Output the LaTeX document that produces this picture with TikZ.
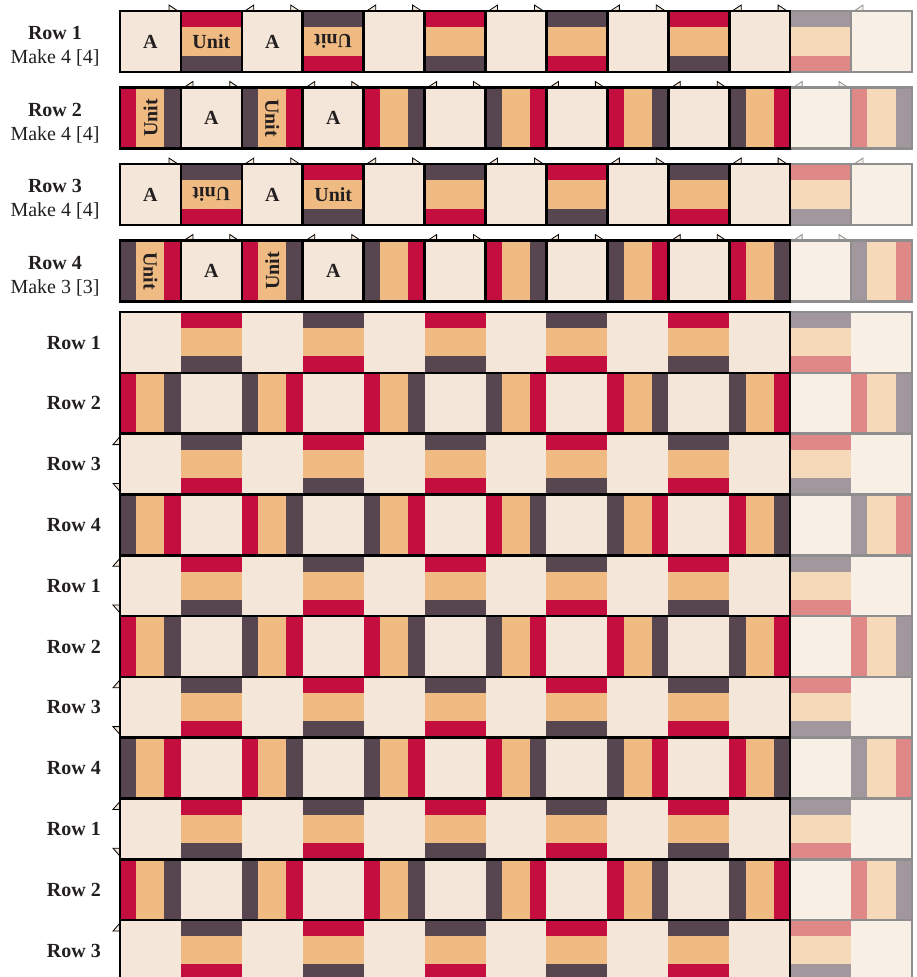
\documentclass[tikz,border=0pt]{standalone}
\usepackage{fontspec}
\setmainfont{Liberation Serif}
\definecolor{cream}{HTML}{F4E6D8}
\definecolor{tanc}{HTML}{F0BB82}
\definecolor{redc}{HTML}{C40E40}
\definecolor{darkc}{HTML}{574550}
\definecolor{creamf}{HTML}{F8F0E6}
\definecolor{tanf}{HTML}{F6D9B8}
\definecolor{redf}{HTML}{DE8888}
\definecolor{darkf}{HTML}{A3979E}
\definecolor{fadeb}{HTML}{8E8E8E}
\definecolor{ink}{HTML}{231F20}
\def\cw{60.92}
% one pattern cell: #1 row type (1-4), #2 column, #3 top y, #4 height
\newcommand{\pcell}[4]{%
  \pgfmathsetmacro{\xa}{120+#2*\cw}%
  \pgfmathtruncatemacro{\ip}{mod(#2,2)}%
  \pgfmathtruncatemacro{\jj}{mod(floor(#2/2),2)}%
  \pgfmathtruncatemacro{\tp}{mod(#1,2)}%
  \pgfmathtruncatemacro{\tq}{(#1>2)?1:0}%
  \ifnum#2>10 \def\cC{creamf}\def\cT{tanf}\def\cR{redf}\def\cD{darkf}%
  \else \def\cC{cream}\def\cT{tanc}\def\cR{redc}\def\cD{darkc}\fi
  \ifnum\ip=\tp
    \ifnum\jj=\tq \edef\cF{\cR}\edef\cS{\cD}\else\edef\cF{\cD}\edef\cS{\cR}\fi
    \fill[\cT] (\xa,#3) rectangle ++(\cw,#4);
    \ifnum\tp=1
      \fill[\cF] (\xa,#3) rectangle ++(\cw,0.27*#4);
      \fill[\cS] (\xa,#3+0.73*#4) rectangle ++(\cw,0.27*#4);
    \else
      \fill[\cF] (\xa,#3) rectangle ++(0.27*\cw,#4);
      \fill[\cS] (\xa+0.73*\cw,#3) rectangle ++(0.27*\cw,#4);
    \fi
  \else
    \fill[\cC] (\xa,#3) rectangle ++(\cw,#4);
  \fi
}
% top notch markers over plain cells: #1 type, #2 column, #3 top y
\newcommand{\pmark}[3]{%
  \pgfmathsetmacro{\xa}{120+#2*\cw}%
  \pgfmathsetmacro{\xb}{120+(#2+1)*\cw}%
  \pgfmathtruncatemacro{\ip}{mod(#2,2)}%
  \pgfmathtruncatemacro{\tp}{mod(#1,2)}%
  \ifnum#2>10 \def\mks{mkf}\else\def\mks{mk}\fi
  \ifnum\ip=\tp\else
    \ifnum#2>0 \draw[\mks] (\xa+3,#3) -- (\xa+12,#3-6) -- (\xa+12,#3) -- cycle;\fi
    \ifnum#2<12 \draw[\mks] (\xb-12,#3-6) -- (\xb-3,#3) -- (\xb-12,#3) -- cycle;\fi
  \fi
}
\begin{document}
\begin{tikzpicture}[x=1pt,y=-1pt,
  bd/.style={draw=black,line width=2.6pt},
  bdf/.style={draw=fadeb,line width=2.6pt},
  mk/.style={fill=cream,draw=black,line width=0.8pt},
  mkf/.style={fill=creamf,draw=fadeb,line width=0.8pt},
  rowl/.style={font=\fontsize{20}{24}\selectfont\bfseries,text=ink,inner sep=0pt},
  makel/.style={font=\fontsize{20}{24}\selectfont,text=ink,inner sep=0pt},
  ctxt/.style={font=\fontsize{20}{24}\selectfont\bfseries,text=ink,inner sep=0pt}]
\useasboundingbox (0,0) rectangle (917,977);
\clip (0,0) rectangle (917,977);

% ---------- four separate strips ----------
\foreach \s/\yt in {1/11,2/87.5,3/164,4/240.5}{
  \foreach \i in {0,...,12}{\pcell{\s}{\i}{\yt}{61}}
  \foreach \i in {0,...,12}{\pmark{\s}{\i}{\yt}}
  \foreach \i in {11,12}{\draw[bdf] ({120+\i*\cw},\yt) rectangle ++(\cw,61);}
  \foreach \i in {0,...,10}{\draw[bd] ({120+\i*\cw},\yt) rectangle ++(\cw,61);}
}

% strip labels
\node[rowl,anchor=base] (l1a) at (55,39.5) {Row 1};
\node[makel,anchor=base] (l1b) at (55,63.5) {Make 4 [4]};
\node[rowl,anchor=base] (l2a) at (55,116) {Row 2};
\node[makel,anchor=base] (l2b) at (55,140) {Make 4 [4]};
\node[rowl,anchor=base] (l3a) at (55,192.5) {Row 3};
\node[makel,anchor=base] (l3b) at (55,216.5) {Make 4 [4]};
\node[rowl,anchor=base] (l4a) at (55,269) {Row 4};
\node[makel,anchor=base] (l4b) at (55,293) {Make 3 [3]};

% cell texts
\node[ctxt] (s1a) at ({120+0.5*\cw},41.5) {A};
\node[ctxt] (s1b) at ({120+1.5*\cw},41.5) {Unit};
\node[ctxt] (s1c) at ({120+2.5*\cw},41.5) {A};
\node[ctxt,rotate=180] (s1d) at ({120+3.5*\cw},41.5) {Unit};
\node[ctxt,rotate=90] (s2a) at ({120+0.5*\cw},118) {Unit};
\node[ctxt] (s2b) at ({120+1.5*\cw},118) {A};
\node[ctxt,rotate=-90] (s2c) at ({120+2.5*\cw},118) {Unit};
\node[ctxt] (s2d) at ({120+3.5*\cw},118) {A};
\node[ctxt] (s3a) at ({120+0.5*\cw},194.5) {A};
\node[ctxt,rotate=180] (s3b) at ({120+1.5*\cw},194.5) {Unit};
\node[ctxt] (s3c) at ({120+2.5*\cw},194.5) {A};
\node[ctxt] (s3d) at ({120+3.5*\cw},194.5) {Unit};
\node[ctxt,rotate=-90] (s4a) at ({120+0.5*\cw},271) {Unit};
\node[ctxt] (s4b) at ({120+1.5*\cw},271) {A};
\node[ctxt,rotate=90] (s4c) at ({120+2.5*\cw},271) {Unit};
\node[ctxt] (s4d) at ({120+3.5*\cw},271) {A};

% ---------- assembled grid ----------
\foreach \k in {0,...,10}{
  \pgfmathsetmacro{\yt}{312+\k*60.8}
  \pgfmathtruncatemacro{\ty}{mod(\k,4)+1}
  \fill[cream] (120,\yt) rectangle (790,\yt+60.8);
  \fill[creamf] (790,\yt) rectangle (912,\yt+60.8);
  \foreach \i in {0,...,12}{\pcell{\ty}{\i}{\yt}{60.8}}
}
% left notch markers
\foreach \k in {2,4,6,8,10}{
  \pgfmathsetmacro{\yt}{312+\k*60.8}
  \draw[mk] (120,\yt+3) -- (113,\yt+11) -- (120,\yt+11) -- cycle;
}
\foreach \k in {2,4,6,8}{
  \pgfmathsetmacro{\yt}{312+\k*60.8}
  \draw[mk] (113,\yt+49.8) -- (120,\yt+49.8) -- (120,\yt+57.8) -- cycle;
}
\foreach \k in {0,...,10}{
  \pgfmathsetmacro{\yt}{312+\k*60.8}
  \draw[bdf] (790,\yt) rectangle (912,\yt+60.8);
}
\foreach \k in {0,...,10}{
  \pgfmathsetmacro{\yt}{312+\k*60.8}
  \draw[bd] (120,\yt) rectangle (790,\yt+60.8);
}
% grid labels
\foreach \k/\r in {0/1,1/2,2/3,3/4,4/1,5/2,6/3,7/4,8/1,9/2,10/3}{
  \pgfmathsetmacro{\yb}{312+\k*60.8+37}
  \node[rowl,anchor=base east] (g\k) at (101,\yb) {Row \r};
}
\end{tikzpicture}
\end{document}
